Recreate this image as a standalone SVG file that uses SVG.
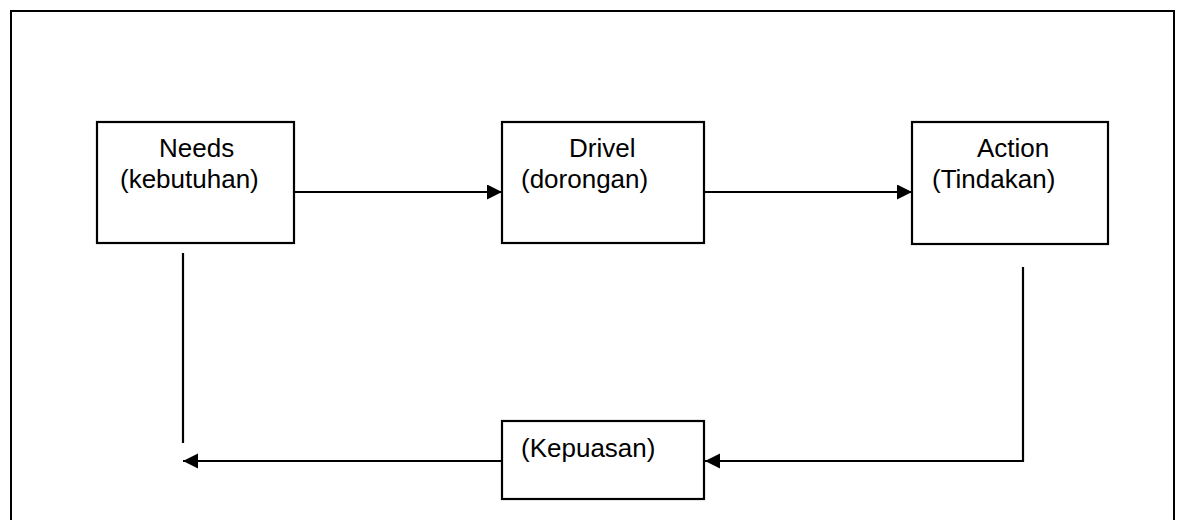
<svg xmlns="http://www.w3.org/2000/svg" width="1178" height="520" viewBox="0 0 1178 520">
  <style>
    .frame { fill: none; stroke: #000; stroke-width: 2; }
    .box { fill: #fff; stroke: #000; stroke-width: 2.2; }
    .label { font-family: "Liberation Sans", Arial, sans-serif; font-size: 26px; fill: #000; }
    .wire { fill: none; stroke: #000; stroke-width: 2.2; }
  </style>
  <defs>
    <marker id="arrow" markerUnits="userSpaceOnUse" markerWidth="16" markerHeight="16" refX="15" refY="7.5" orient="auto">
      <path d="M0,0 L15,7.5 L0,15 Z" fill="#000"/>
    </marker>
  </defs>

  <rect width="1178" height="520" fill="#fff"/>
  <!-- outer frame (bottom edge runs past the page) -->
  <rect class="frame" x="11" y="11" width="1163" height="530"/>

  <g id="connectors">
    <line class="wire" x1="294" y1="192" x2="502" y2="192" marker-end="url(#arrow)"/>
    <line class="wire" x1="704" y1="192" x2="912" y2="192" marker-end="url(#arrow)"/>
    <polyline class="wire" points="1023,267 1023,461 705,461" marker-end="url(#arrow)"/>
    <line class="wire" x1="502" y1="461" x2="183" y2="461" marker-end="url(#arrow)"/>
    <line class="wire" x1="183" y1="253" x2="183" y2="443"/>
  </g>

  <g id="needs">
    <rect class="box" x="97" y="122" width="197" height="121"/>
    <text class="label" x="159" y="157">Needs</text>
    <text class="label" x="120" y="188">(kebutuhan)</text>
  </g>

  <g id="drive">
    <rect class="box" x="502" y="122" width="202" height="121"/>
    <text class="label" x="569" y="157">Drivel</text>
    <text class="label" x="521" y="188">(dorongan)</text>
  </g>

  <g id="action">
    <rect class="box" x="912" y="122" width="196" height="122"/>
    <text class="label" x="977" y="157">Action</text>
    <text class="label" x="932" y="188">(Tindakan)</text>
  </g>

  <g id="kepuasan">
    <rect class="box" x="502" y="421" width="202" height="78"/>
    <text class="label" x="521" y="457">(Kepuasan)</text>
  </g>
</svg>
